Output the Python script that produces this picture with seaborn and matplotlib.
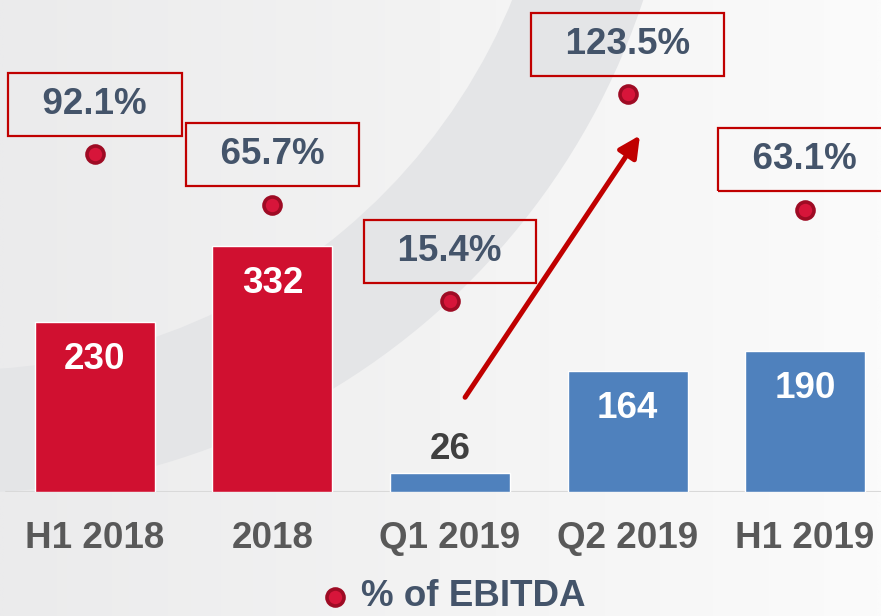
import numpy as np
import pandas as pd
import matplotlib
matplotlib.use("Agg")
import matplotlib.pyplot as plt
from matplotlib.patches import Wedge
import seaborn as sns

# ---- data ----
categories = ["H1 2018", "2018", "Q1 2019", "Q2 2019", "H1 2019"]
values = [230, 332, 26, 164, 190]
ebitda_pct = [92.1, 65.7, 15.4, 123.5, 63.1]
pct_labels = ["92.1%", "65.7%", "15.4%", "123.5%", "63.1%"]
bar_colors = ["#D01030", "#D01030", "#4F81BD", "#4F81BD", "#4F81BD"]
legend_label = "% of EBITDA"

sns.set_theme(style="white")
plt.rcParams["font.family"] = ["Liberation Sans", "DejaVu Sans"]

W, H = 881, 616
fig = plt.figure(figsize=(W / 100, H / 100), dpi=100)

# ---- background ----
bg = fig.add_axes([0, 0, 1, 1], zorder=-5)
gx = np.linspace(0, 1, 300)
grad = np.tile(gx, (50, 1))
bg.imshow(grad, extent=[0, W, H, 0], aspect="auto",
          cmap=matplotlib.colors.LinearSegmentedColormap.from_list("g", ["#ebebec", "#f3f3f3", "#fbfbfb"]),
          vmin=0, vmax=1)
bg.add_patch(Wedge((-40, -227), 720, 5, 95, width=123, facecolor="#e4e5e7", edgecolor="none"))
bg.set_xlim(0, W)
bg.set_ylim(H, 0)
bg.axis("off")

# ---- main axes ----
ax = fig.add_axes([0, 124 / H, 1, 492 / H], zorder=1)
ax.patch.set_alpha(0)
df = pd.DataFrame({"cat": categories, "val": values})
sns.barplot(data=df, x="cat", y="val", hue="cat", palette=bar_colors,
            width=0.676, legend=False, ax=ax, saturation=1)
ax.set_xlim(-0.535, 4.428)
ax.set_ylim(0, 665)
ax.axhline(0, xmin=6 / W, xmax=1, color="#d9d9d9", lw=1.5, zorder=0)
for s in ax.spines.values():
    s.set_visible(False)
ax.set_yticks([])
ax.set_xlabel("")
ax.set_ylabel("")
ax.set_xticks(range(len(categories)))
ax.set_xticklabels(categories, fontsize=26.5, fontweight="bold", color="#595959")
ax.tick_params(axis="x", length=0, pad=21)

for i, v in enumerate(values):
    if v > 60:
        ax.annotate(str(v), (i, v), xytext=(0, -27), textcoords="offset points",
                    ha="center", va="center", fontsize=26.5, fontweight="bold", color="white")
    else:
        ax.annotate(str(v), (i, v), xytext=(0, 17), textcoords="offset points",
                    ha="center", va="center", fontsize=26.5, fontweight="bold", color="#404040")

# arrow
ax.annotate("", xy=(3.07, 482), xytext=(2.085, 128),
            arrowprops=dict(arrowstyle="-|>", color="#C00000", lw=3.6, mutation_scale=32,
                            shrinkA=0, shrinkB=0))

# ---- EBITDA % on twin axis ----
ax2 = ax.twinx()
ax2.patch.set_alpha(0)
pdf = pd.DataFrame({"pos": np.arange(len(categories)), "pct": ebitda_pct})
sns.scatterplot(data=pdf, x="pos", y="pct", ax=ax2, s=150, color="#D7153A",
                edgecolor="#9E0B24", linewidth=2.6, zorder=5, label=legend_label, legend=False)
ax2.set_ylim(-84.3, 172.6)
ax2.set_xlim(-0.535, 4.428)
ax2.set_yticks([])
ax2.set_ylabel("")
for s in ax2.spines.values():
    s.set_visible(False)

for i, (p, lab) in enumerate(zip(ebitda_pct, pct_labels)):
    ax2.annotate("  " + lab + "  ", (i, p), xytext=(0, 36), textcoords="offset points",
                 ha="center", va="center", fontsize=26.5, fontweight="bold", color="#44546A",
                 bbox=dict(boxstyle="square,pad=0.38", facecolor="none", edgecolor="#C00000", lw=1.6))

# ---- legend ----
handles = ax2.collections[:1]
leg = fig.legend(handles, [legend_label], loc="center left",
                 bbox_to_anchor=(302 / W, 1 - 597 / H), frameon=False,
                 prop={"size": 26.5, "weight": "bold"}, handletextpad=0.2,
                 markerscale=1.0, borderaxespad=0, handlelength=1.0)
for t in leg.get_texts():
    t.set_color("#44546A")

fig.savefig("out.png", dpi=100)
